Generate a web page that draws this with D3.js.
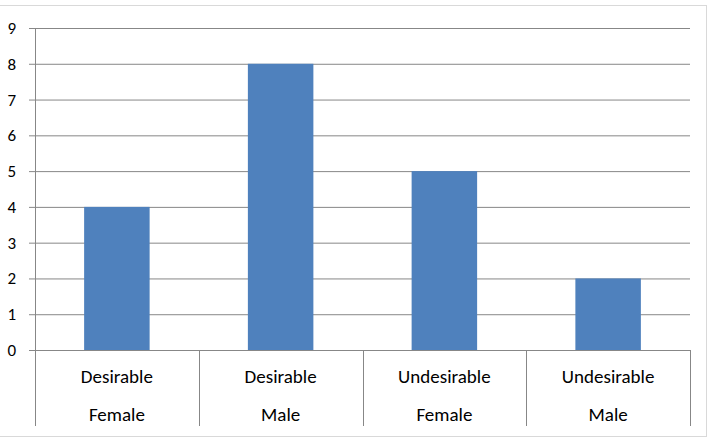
<!DOCTYPE html>
<html>
<head>
<meta charset="utf-8">
<script src="https://cdn.jsdelivr.net/npm/d3@7"></script>
<style>
  body { margin: 0; background: #fff; }
  text { font-family: Calibri, Carlito, "Open Sans", "Liberation Sans", sans-serif; fill: #000; }
  .tick text { font-size: 17px; }
</style>
</head>
<body>
<div id="chart"></div>
<script>
// categories are two-line labels
const categories = ['Desirable Female', 'Desirable Male', 'Undesirable Female', 'Undesirable Male'];
const labelTop = ['Desirable', 'Desirable', 'Undesirable', 'Undesirable'];
const labelBottom = ['Female', 'Male', 'Female', 'Male'];
const values = [4, 8, 5, 2];
const yTicks = [0, 1, 2, 3, 4, 5, 6, 7, 8, 9];

const width = 717, height = 442;
const margin = { top: 28, right: 27, bottom: 92, left: 35 };
const innerWidth = width - margin.left - margin.right;
const innerHeight = height - margin.top - margin.bottom;

const svg = d3.select('#chart').append('svg')
    .attr('width', width)
    .attr('height', height);

// outer chart border (left side falls outside the picture)
svg.append('rect')
    .attr('x', -2.5).attr('y', 5.5)
    .attr('width', 709).attr('height', 431)
    .attr('fill', 'none')
    .attr('stroke', '#d9d9d9');

const g = svg.append('g')
    .attr('transform', `translate(${margin.left},${margin.top})`);

const x = d3.scaleBand()
    .domain(categories)
    .range([0, innerWidth])
    .padding(0);

const y = d3.scaleLinear()
    .domain([0, 9])
    .range([innerHeight, 0]);

// gridlines + ticks
const yAxis = g.append('g')
    .call(d3.axisLeft(y).tickValues(yTicks).tickSize(-innerWidth).tickPadding(19).tickFormat(d3.format('d')));
yAxis.select('.domain').remove();
yAxis.selectAll('.tick line')
    .attr('stroke', '#878787')
    .attr('x1', -6);
yAxis.selectAll('.tick text')
    .attr('font-size', 17)
    .attr('fill', '#000');

// bars
const barW = x.bandwidth() * 0.4;
g.selectAll('.bar')
    .data(values)
    .enter()
    .append('rect')
    .attr('class', 'bar')
    .attr('x', (d, i) => x(categories[i]) + (x.bandwidth() - barW) / 2)
    .attr('y', d => y(d))
    .attr('width', barW)
    .attr('height', d => innerHeight - y(d))
    .attr('fill', '#4f81bd');

// left axis line and category separators
const seps = [0].concat(categories.map(c => x(c) + x.bandwidth()));
g.selectAll('.sep')
    .data(seps)
    .enter()
    .append('line')
    .attr('x1', d => Math.round(d) + 0.5)
    .attr('x2', d => Math.round(d) + 0.5)
    .attr('y1', d => d === 0 ? 0 : innerHeight)
    .attr('y2', innerHeight + 76)
    .attr('stroke', '#878787');

// category labels
g.selectAll('.lab1')
    .data(categories)
    .enter()
    .append('text')
    .attr('x', d => x(d) + x.bandwidth() / 2)
    .attr('y', innerHeight + 33)
    .attr('text-anchor', 'middle')
    .attr('font-size', 19)
    .text((d, i) => labelTop[i]);

g.selectAll('.lab2')
    .data(categories)
    .enter()
    .append('text')
    .attr('x', d => x(d) + x.bandwidth() / 2)
    .attr('y', innerHeight + 71)
    .attr('text-anchor', 'middle')
    .attr('font-size', 19)
    .text((d, i) => labelBottom[i]);
</script>
</body>
</html>
